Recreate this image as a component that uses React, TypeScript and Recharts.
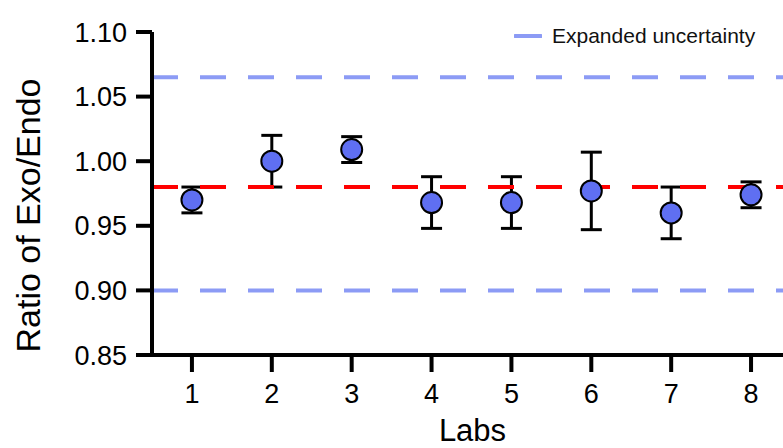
import { ScatterChart, Scatter, XAxis, YAxis, ErrorBar, ReferenceLine, Legend } from 'recharts'

const labs = [1, 2, 3, 4, 5, 6, 7, 8]
const ratios = [0.970, 1.000, 1.009, 0.968, 0.968, 0.977, 0.960, 0.974]
const errors = [0.010, 0.020, 0.010, 0.020, 0.020, 0.030, 0.020, 0.010]
const yTicks = [0.85, 0.9, 0.95, 1.0, 1.05, 1.1]
const consensus = 0.98
const upperLimit = 1.065
const lowerLimit = 0.9

const font = 'Liberation Sans, Arial, sans-serif'
const pointBlue = '#5f6ff2'
const limitBlue = '#8c9bf5'

const rows = labs.map((lab, i) => ({ lab, ratio: ratios[i], err: errors[i] }))

const Dot = (props: any) => (
    <circle cx={props.cx} cy={props.cy} r={10.5} fill={pointBlue} stroke="#000" strokeWidth={2} />
)

const YLabel = (props: any) => {
    const { y, height } = props.viewBox
    const cx = 40
    const cy = y + height / 2 + 22
    return (
        <text x={cx} y={cy} transform={`rotate(-90 ${cx} ${cy})`} textAnchor="middle" fontSize={34} fontFamily={font} fill="#000">
            Ratio of Exo/Endo
        </text>
    )
}

const XLabel = (props: any) => {
    const { x, width } = props.viewBox
    return (
        <text x={x + width / 2 + 5} y={441} textAnchor="middle" fontSize={31} fontFamily={font} fill="#000">
            Labs
        </text>
    )
}

const LegendBox = () => (
    <div style={{ display: 'flex', alignItems: 'center', fontFamily: font, fontSize: 21, color: '#111', whiteSpace: 'nowrap' }}>
        <svg width={28} height={6} style={{ marginRight: 10 }}>
            <line x1={1} y1={3} x2={27} y2={3} stroke={limitBlue} strokeWidth={4} strokeLinecap="round" />
        </svg>
        Expanded uncertainty
    </div>
)

export default function App() {
    return (
        <div style={{ position: 'absolute', left: 0, top: 0, background: '#fff' }}>
            <ScatterChart width={783} height={448} margin={{ top: 32, right: 0, bottom: 0, left: 0 }}>
                <XAxis
                    type="number"
                    dataKey="lab"
                    domain={[0.5, 8.4]}
                    ticks={labs}
                    height={93}
                    axisLine={{ stroke: '#000', strokeWidth: 4 }}
                    tickLine={{ stroke: '#000', strokeWidth: 4 }}
                    tickSize={17}
                    tickMargin={12}
                    tick={{ fontSize: 27, fill: '#000', fontFamily: font }}
                    label={<XLabel />}
                />
                <YAxis
                    type="number"
                    dataKey="ratio"
                    domain={[0.85, 1.1]}
                    ticks={yTicks}
                    width={152}
                    allowDataOverflow
                    tickFormatter={(v: number) => v.toFixed(2)}
                    axisLine={{ stroke: '#000', strokeWidth: 4 }}
                    tickLine={{ stroke: '#000', strokeWidth: 4 }}
                    tickSize={16}
                    tickMargin={9}
                    tick={{ fontSize: 27, fill: '#000', fontFamily: font }}
                    label={<YLabel />}
                />
                <Legend
                    layout="vertical"
                    align="center"
                    verticalAlign="middle"
                    content={<LegendBox />}
                    wrapperStyle={{ left: 514, top: 24, width: 'auto' }}
                />
                <ReferenceLine y={upperLimit} stroke={limitBlue} strokeWidth={4} strokeDasharray="26 22" />
                <ReferenceLine y={lowerLimit} stroke={limitBlue} strokeWidth={4} strokeDasharray="26 22" />
                <Scatter data={rows} shape={<Dot />} isAnimationActive={false}>
                    <ErrorBar dataKey="err" direction="y" width={10.5} stroke="#000" strokeWidth={3} />
                </Scatter>
                <ReferenceLine y={consensus} stroke="#ff0000" strokeWidth={4} strokeDasharray="26 22" />
            </ScatterChart>
        </div>
    )
}
